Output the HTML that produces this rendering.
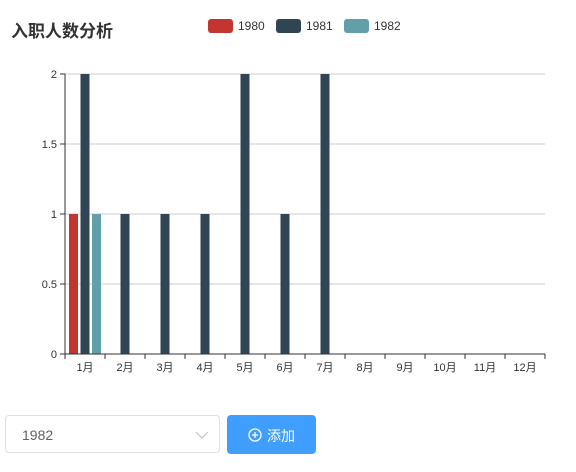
<!DOCTYPE html>
<html><head><meta charset="utf-8"><style>
body{margin:0;width:576px;height:472px;background:#fff;font-family:"Liberation Sans","Noto Sans CJK SC",sans-serif;position:relative;overflow:hidden}
.title{position:absolute;left:11px;top:17px;font-size:17px;font-weight:bold;color:#333}
.sel{position:absolute;left:5px;top:415px;width:215px;height:38px;border:1px solid #dcdfe6;border-radius:4px;box-sizing:border-box}
.sel span{position:absolute;left:16px;top:11px;font-size:14px;color:#606266}
.btn{position:absolute;left:227px;top:415px;width:89px;height:39px;background:#409eff;border-radius:4px;color:#fff;font-size:14px}
</style></head><body>
<div class="title">入职人数分析</div>
<svg id="c" width="576" height="400" style="position:absolute;left:0;top:0"></svg>
<div class="sel"><span>1982</span>
<svg width="14" height="8" style="position:absolute;right:10px;top:15px"><path d="M1 1l6 6 6-6" fill="none" stroke="#c0c4cc" stroke-width="1.2"/></svg></div>
<div class="btn">
<svg width="14" height="14" style="position:absolute;left:21px;top:13px"><circle cx="7" cy="7" r="6" fill="none" stroke="#fff" stroke-width="1.3"/><path d="M7 4v6M4 7h6" stroke="#fff" stroke-width="1.3"/></svg>
<span style="position:absolute;left:40px;top:11px">添加</span></div>
<script>
const categories=["1月","2月","3月","4月","5月","6月","7月","8月","9月","10月","11月","12月"];
const seriesNames=["1980","1981","1982"];
const s1980=[1,0,0,0,0,0,0,0,0,0,0,0];
const s1981=[2,1,1,1,2,1,2,0,0,0,0,0];
const s1982=[1,0,0,0,0,0,0,0,0,0,0,0];
const yTicks=[0,0.5,1,1.5,2];
const colors=["#c23531","#2f4554","#61a0a8"];
const svg=document.getElementById('c');const NS="http://www.w3.org/2000/svg";
function mk(t,a,p){const e=document.createElementNS(NS,t);for(const k in a)e.setAttribute(k,a[k]);(p||svg).appendChild(e);return e;}
const L=65,R=545,T=74,B=354,ymax=2;
const y=v=>B-(B-T)*v/ymax;const cw=(R-L)/categories.length;const x=i=>L+i*cw;
yTicks.forEach(t=>{if(t>0){const g=mk('line',{x1:L,x2:R,y1:y(t),y2:y(t),stroke:'#ccc'});}
mk('line',{x1:L-5,x2:L,y1:y(t),y2:y(t),stroke:'#333'});
const tx=mk('text',{x:L-8,y:y(t)+4,'text-anchor':'end','font-size':11,fill:'#333'});tx.textContent=t;
});
[s1980,s1981,s1982].forEach((s,si)=>s.forEach((v,i)=>{if(v<=0)return;
const r=mk('rect',{x:x(i)+4+si*11.5,y:y(v),width:9,height:B-y(v),fill:colors[si]});
}));
mk('line',{x1:L,x2:L,y1:T,y2:B,stroke:'#333'});
mk('line',{x1:L,x2:R,y1:B,y2:B,stroke:'#333'});
categories.forEach((c,i)=>{mk('line',{x1:x(i),x2:x(i),y1:B,y2:B+5,stroke:'#333'});
const tx=mk('text',{x:x(i)+cw/2,y:B+17,'text-anchor':'middle','font-size':11,fill:'#333'});tx.textContent=c;
});
mk('line',{x1:R,x2:R,y1:B,y2:B+5,stroke:'#333'});
seriesNames.forEach((n,i)=>{const lx=208+i*68;
const g=mk('g',{});
mk('rect',{x:lx,y:19,width:25,height:14,rx:3,fill:colors[i]},g);
const t=mk('text',{x:lx+30,y:30,'font-size':12,fill:'#333'},g);t.textContent=n;});
</script></body></html>
